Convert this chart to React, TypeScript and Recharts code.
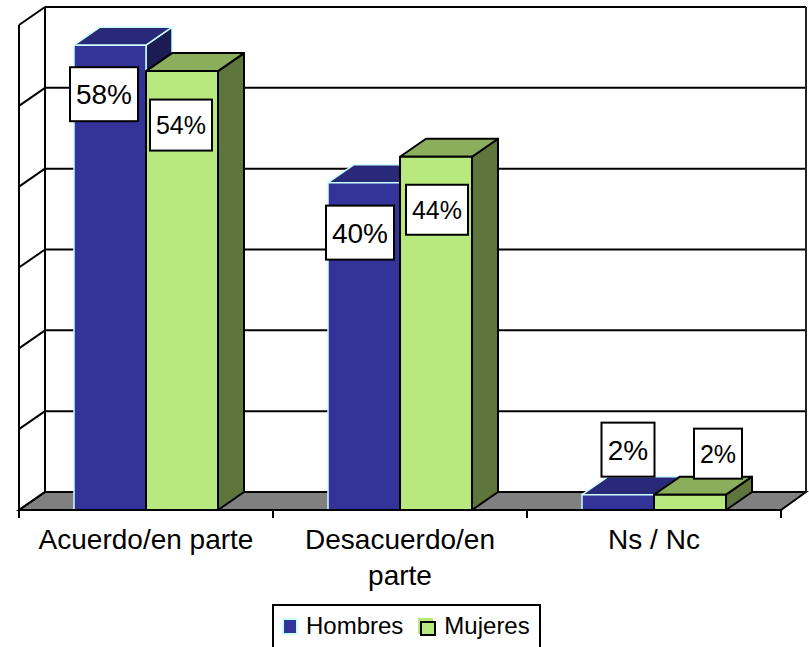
import React from 'react';
import { ComposedChart, Bar, XAxis, YAxis, LabelList, Legend, CartesianGrid } from 'recharts';

const categories = ['Acuerdo/en parte', 'Desacuerdo/en parte', 'Ns / Nc'];
const hombres = [0.575, 0.405, 0.019];
const mujeres = [0.543, 0.437, 0.019];
const hombresLabels = ['58%', '40%', '2%'];
const mujeresLabels = ['54%', '44%', '2%'];
const yTicks = [0, 0.1, 0.2, 0.3, 0.4, 0.5, 0.6];

const rows = categories.map((name, i) => ({
  name,
  hombres: hombres[i],
  mujeres: mujeres[i],
  hombresLabel: hombresLabels[i],
  mujeresLabel: mujeresLabels[i],
}));

const DX = 26;
const DY = -18;
const PLOT_LEFT = 19;
const PLOT_RIGHT = 781;
const PLOT_TOP = 25;
const WALL_H = 486;
const BAND = (PLOT_RIGHT - PLOT_LEFT) / categories.length;
const FONT = '"Liberation Sans", Arial, sans-serif';

const hombresStyle = { front: '#333399', top: '#29297A', side: '#1C1C55', stroke: '#CCFFFF', strokeWidth: 1.5 };
const mujeresStyle = { front: '#B8E97E', top: '#8AAE5C', side: '#5E763B', stroke: '#000000', strokeWidth: 2 };

const hombresLabelPlace = [
  { dx: -6, dy: 49, w: 68, h: 54 },
  { dx: -4, dy: 50, w: 68, h: 54 },
  { dx: 10, dy: -45, w: 53, h: 54 },
];
const mujeresLabelPlace = [
  { dx: -1, dy: 54, w: 62, h: 51 },
  { dx: 1, dy: 53, w: 62, h: 50 },
  { dx: 28, dy: -41, w: 48, h: 50 },
];

function Box3D(props: any, s: typeof hombresStyle) {
  const { x, y, width, height } = props;
  const r = x + width;
  const b = y + height;
  const common = { stroke: s.stroke, strokeWidth: s.strokeWidth, strokeLinejoin: 'round' as const };
  return (
    <g>
      <polygon points={`${r},${y} ${r + DX},${y + DY} ${r + DX},${b + DY} ${r},${b}`} fill={s.side} {...common} />
      <polygon points={`${x},${y} ${x + DX},${y + DY} ${r + DX},${y + DY} ${r},${y}`} fill={s.top} {...common} />
      <rect x={x} y={y} width={width} height={height} fill={s.front} {...common} />
    </g>
  );
}

function BoxLabel(props: any, place: typeof hombresLabelPlace, size: number, texts: string[]) {
  const { x, y, width, index } = props;
  const p = place[index];
  const cx = x + width / 2 + p.dx;
  const cy = y + p.dy;
  return (
    <g>
      <rect x={cx - p.w / 2} y={cy - p.h / 2} width={p.w} height={p.h} fill="#fff" stroke="#000" strokeWidth={2} />
      <text x={cx} y={cy + size * 0.36} textAnchor="middle" fontFamily={FONT} fontSize={size} fill="#000">
        {texts[index]}
      </text>
    </g>
  );
}

function wallLine(props: any) {
  const y = props.y1;
  const x = PLOT_LEFT;
  const isFloor = Math.abs(y - (PLOT_TOP + WALL_H)) < 2;
  const isTop = Math.abs(y - PLOT_TOP) < 2;
  const right = PLOT_RIGHT + DX - 1;
  return (
    <g>
      {isFloor && (
        <polygon
          points={`${x},${y} ${x + DX},${y + DY} ${right},${y + DY} ${PLOT_RIGHT},${y}`}
          fill="#808080"
          stroke="#000"
          strokeWidth={2}
        />
      )}
      <line x1={x} y1={y} x2={x + DX} y2={y + DY} stroke="#000" strokeWidth={2} />
      <line x1={x + DX} y1={y + DY} x2={right} y2={y + DY} stroke="#000" strokeWidth={2} />
      {isTop && (
        <>
          <line x1={x} y1={y} x2={x} y2={y + WALL_H} stroke="#000" strokeWidth={2} />
          <line x1={x + DX} y1={y + DY} x2={x + DX} y2={y + DY + WALL_H} stroke="#000" strokeWidth={2} />
          <line x1={right} y1={y + DY} x2={right} y2={y + DY + WALL_H} stroke="#222" strokeWidth={2} />
        </>
      )}
    </g>
  );
}

function CategoryTick(props: any) {
  const { x, y, payload, index } = props;
  const value: string = payload.value;
  const lines = value.length > 16 ? value.split(' ') : [value];
  const last = index === categories.length - 1;
  return (
    <g>
      <line x1={x - BAND / 2} y1={y} x2={x - BAND / 2} y2={y + 8} stroke="#000" strokeWidth={2} />
      {last && <line x1={x + BAND / 2} y1={y} x2={x + BAND / 2} y2={y + 8} stroke="#000" strokeWidth={2} />}
      {lines.map((line, i) => (
        <text key={line} x={x} y={y + 39 + i * 36} textAnchor="middle" fontFamily={FONT} fontSize={28} fill="#000">
          {line}
        </text>
      ))}
    </g>
  );
}

function LegendBox(props: any) {
  const items = props.payload || [];
  return (
    <div
      style={{
        boxSizing: 'border-box',
        width: 269,
        height: 46,
        border: '2px solid #000',
        background: '#fff',
        display: 'flex',
        alignItems: 'flex-start',
        fontFamily: FONT,
        fontSize: 24,
        lineHeight: '28px',
        color: '#000',
        paddingLeft: 8,
        paddingTop: 6,
      }}
    >
      {items.map((item: any, i: number) => (
        <span key={item.value} style={{ display: 'inline-flex', alignItems: 'center', marginRight: 15 }}>
          {i === 0 ? (
            <span style={{ width: 12, height: 13, background: '#333399', border: '2px solid #CCFFFF', marginRight: 8 }} />
          ) : (
            <span style={{ position: 'relative', width: 18, height: 17, marginRight: 8 }}>
              <span style={{ position: 'absolute', left: 0, top: 0, width: 15, height: 16, background: '#B8E97E' }} />
              <span
                style={{
                  position: 'absolute',
                  left: 2,
                  top: 3,
                  width: 12,
                  height: 11,
                  background: '#B8E97E',
                  border: '2px solid #000',
                }}
              />
            </span>
          )}
          {item.value}
        </span>
      ))}
    </div>
  );
}

export default function App() {
  return (
    <div style={{ position: 'absolute', left: 0, top: 0, width: 809, height: 647, background: '#fff', overflow: 'hidden' }}>
      <ComposedChart
        width={809}
        height={647}
        data={rows}
        margin={{ top: PLOT_TOP, right: 809 - PLOT_RIGHT, bottom: 90, left: PLOT_LEFT - 1 }}
        barGap={0}
        barSize={72}
      >
        <CartesianGrid vertical={false} horizontal={wallLine} horizontalValues={yTicks} stroke="#000" />
        <YAxis
          type="number"
          domain={[0, 0.6]}
          ticks={yTicks}
          interval={0}
          width={1}
          axisLine={false}
          tickLine={false}
          tickSize={0}
          tickMargin={0}
          tick={<g />}
        />
        <XAxis
          dataKey="name"
          height={1}
          interval={0}
          tickLine={false}
          tickSize={0}
          tickMargin={0}
          axisLine={{ stroke: '#000', strokeWidth: 2 }}
          tick={<CategoryTick />}
        />
        <Bar
          dataKey="hombres"
          name="Hombres"
          fill="#333399"
          isAnimationActive={false}
          shape={(p: any) => Box3D(p, hombresStyle)}
        >
          <LabelList dataKey="hombresLabel" content={(p: any) => BoxLabel(p, hombresLabelPlace, 28, hombresLabels)} />
        </Bar>
        <Bar
          dataKey="mujeres"
          name="Mujeres"
          fill="#B8E97E"
          isAnimationActive={false}
          shape={(p: any) => Box3D(p, mujeresStyle)}
        >
          <LabelList dataKey="mujeresLabel" content={(p: any) => BoxLabel(p, mujeresLabelPlace, 25, mujeresLabels)} />
        </Bar>
        <Legend
          content={<LegendBox />}
          wrapperStyle={{ position: 'absolute', left: 272, top: 604, width: 269, bottom: 'auto' }}
        />
      </ComposedChart>
    </div>
  );
}
